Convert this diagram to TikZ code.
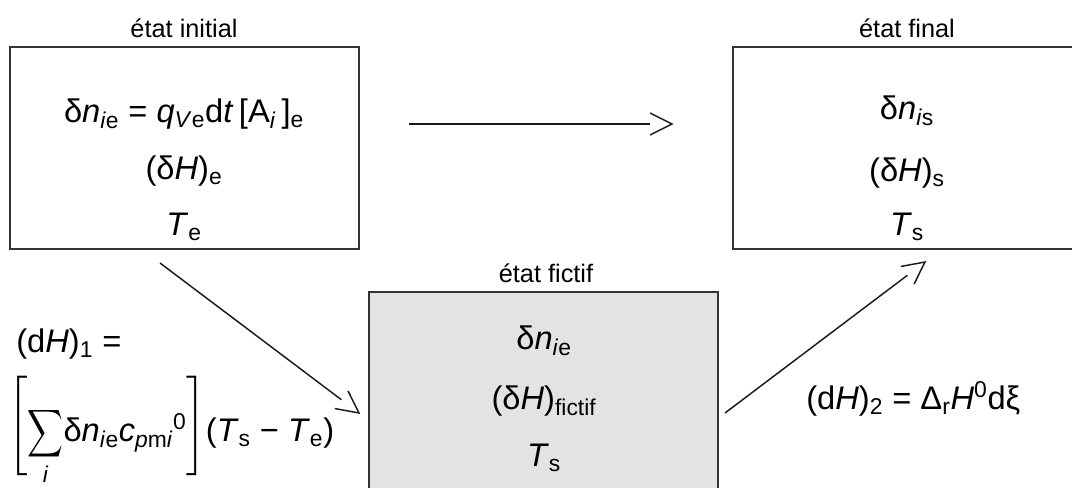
\documentclass[tikz,border=0pt]{standalone}
\usepackage{amsmath}
\usepackage{graphicx}
\usepackage{fontspec}
\setmainfont{Liberation Sans}
\usetikzlibrary{calc}
\definecolor{boxline}{HTML}{333333}
\definecolor{fictfill}{HTML}{E3E3E3}
\definecolor{arrowcol}{HTML}{1A1A1A}
\newcommand{\openarrow}[3]{%
  \coordinate (#3-b) at ($(#2)!16.5pt!(#1)$);
  \coordinate (#3-l) at ($(#3-b)!8.25pt!90:(#2)$);
  \coordinate (#3-r) at ($(#3-b)!8.25pt!-90:(#2)$);
  \draw[conn] (#1) -- (#3-b);
  \draw[conn, line join=miter] (#3-l) -- (#2) -- (#3-r);
}
\newcommand{\bigbrk}[1]{\smash{\raisebox{6pt}{$\left#1\vrule height 30pt depth 30pt width 0pt\right.\kern-\nulldelimiterspace$}}}
\newcommand{\bigbrkr}[1]{\smash{\raisebox{6pt}{$\kern-\nulldelimiterspace\left.\vrule height 30pt depth 30pt width 0pt\right#1$}}}
\newcommand{\narrowsum}{\mathop{\scalebox{0.75}[1]{$\displaystyle\sum$}}\limits}
\begin{document}
\begin{tikzpicture}[x=0.75pt,y=-0.75pt,
  box/.style={draw=boxline, line width=1.5pt, minimum width=261.75pt, minimum height=151.5pt, inner sep=0pt},
  fml/.style={font=\fontsize{24.5}{28}\selectfont, anchor=base, inner sep=0pt},
  ttl/.style={font=\fontsize{19}{22}\selectfont, anchor=base, inner sep=0pt},
  conn/.style={draw=arrowcol, line width=1.1pt}]
\useasboundingbox (0,0) rectangle (1072,488);
\clip (0,0) rectangle (1072,488);
% boxes
\node[box] (init) at (184.5,148) {};
\node[box] (final) at (907,148) {};
\node[box, fill=fictfill, minimum height=150pt] (fict) at (543.5,392) {};
% titles
\node[ttl] (tinit) at (184,38) {état initial};
\node[ttl] (tfinal) at (907,38) {état final};
\node[ttl] (tfict) at (546,283) {état fictif};
% initial state
\node[fml] (i1) at (184,123) {δ\textit{n}\textsubscript{\textit{i}e} = \textit{q}\textsubscript{\textit{V}e}d\textit{t}\,[A\textsubscript{\textit{i}}\,]\textsubscript{e}};
\node[fml] (i2) at (184,180) {(δ\textit{H})\textsubscript{e}};
\node[fml] (i3) at (184,236) {\textit{T}\textsubscript{e}};
% final state
\node[fml] (f1) at (907,120) {δ\textit{n}\textsubscript{\textit{i}s}};
\node[fml] (f2) at (907,182) {(δ\textit{H})\textsubscript{s}};
\node[fml] (f3) at (907,236) {\textit{T}\textsubscript{s}};
% fictive state
\node[fml] (c1) at (544,350) {δ\textit{n}\textsubscript{\textit{i}e}};
\node[fml] (c2) at (544,410) {(δ\textit{H})\textsubscript{fictif}};
\node[fml] (c3) at (544,467) {\textit{T}\textsubscript{s}};
% labels
\node[fml, anchor=base west] (dh1) at (16,353) {(d\textit{H})\textsubscript{1} =};
\node[fml, anchor=base west] (sum) at (8,442) {\bigbrk[$\displaystyle\narrowsum_{\text{\textit{i}}}$δ\textit{n}\textsubscript{\textit{i}e}\textit{c}\textsubscript{\textit{p}m\textit{i}}\textsuperscript{0}\bigbrkr](\textit{T}\textsubscript{s} − \textit{T}\textsubscript{e})};
\node[fml, anchor=base west] (dh2) at (806,410) {(d\textit{H})\textsubscript{2} = Δ\textsubscript{r}\textit{H}\textsuperscript{0}dξ};
% arrows
\coordinate (h1) at (409,124);
\coordinate (h2) at (672,124);
\coordinate (d1s) at (160,263);
\coordinate (d1e) at (359,413);
\coordinate (d2s) at (725,413);
\coordinate (d2e) at (925,262);
\openarrow{h1}{h2}{ha}
\openarrow{d1s}{d1e}{da}
\openarrow{d2s}{d2e}{db}
\end{tikzpicture}
\end{document}
